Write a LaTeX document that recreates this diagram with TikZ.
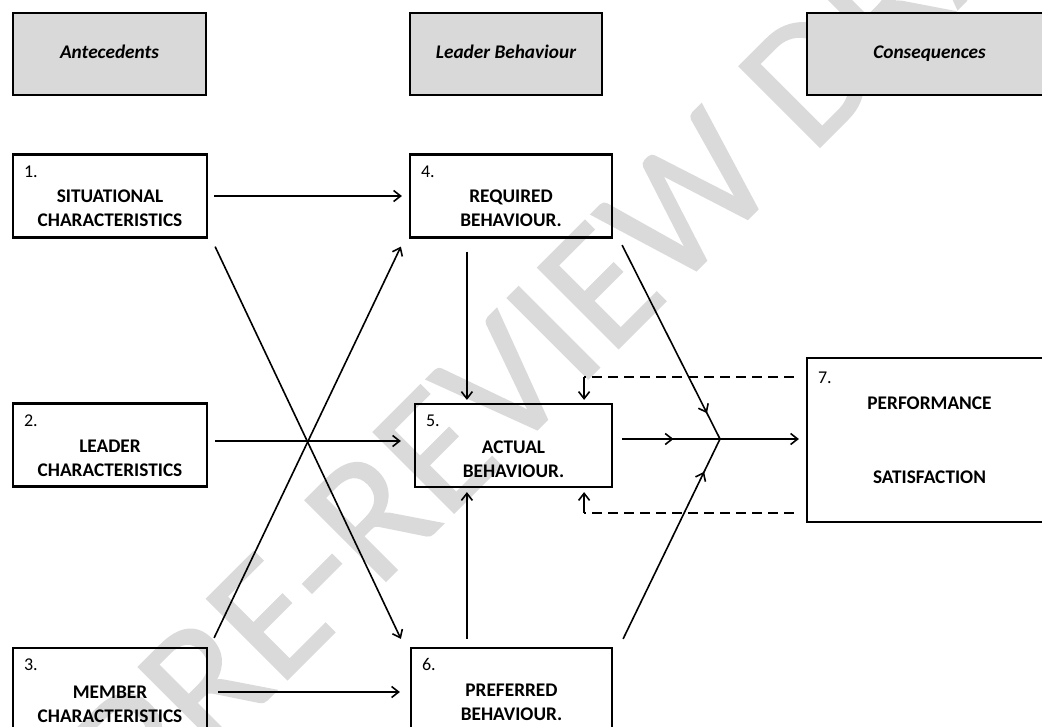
\documentclass[tikz,border=0pt]{standalone}
\usepackage{fontspec}
\setmainfont{Carlito}
\newfontfamily\wmfont[FakeBold=0.8]{Carlito}
\usetikzlibrary{arrows.meta,decorations.markings}
\definecolor{hdrfill}{HTML}{D9D9D9}
\definecolor{wmark}{HTML}{DADADA}
\tikzset{
  barb/.tip={Straight Barb[length=7pt,width=11pt]},
  hdr/.style={draw, line width=2.6pt, fill=hdrfill, minimum height=82pt, inner sep=0pt,
    text height=13pt, text depth=4pt, font=\fontsize{19.3}{24}\selectfont\bfseries\itshape},
  item/.style={draw, line width=2.2pt, inner sep=0pt, minimum height=83pt},
  num/.style={anchor=west, inner sep=0pt, font=\fontsize{18}{20}\selectfont},
  lbl/.style={align=center, inner sep=0pt, font=\fontsize{19.3}{24}\selectfont\bfseries},
  arr/.style={line width=1.6pt, -barb},
  midarr/.style={line width=1.6pt, postaction={decorate},
    decoration={markings, mark=at position #1 with {\arrow{barb}}}},
  fbline/.style={line width=1.6pt, dash pattern=on 10pt off 6pt},
  wm/.style={inner sep=0pt, text=wmark, font=\wmfont\fontsize{178}{180}\selectfont}
}
\begin{document}
\begin{tikzpicture}[x=1pt,y=-1pt]
\path[use as bounding box] (0,0) rectangle (1042,726);
\clip (0,0) rectangle (1042,726);

% watermark behind everything
\node[wm, rotate=45, anchor=base west] (wm) at (145,822) {PRE-REVIEW DRAFT};

% column headers
\node[hdr, minimum width=193pt] (h1) at (109.5,54) {Antecedents};
\node[hdr, minimum width=192pt] (h2) at (506,54) {Leader Behaviour};
\node[hdr, minimum width=245pt] (h3) at (929.5,54) {Consequences};

% boxes
\node[item, minimum width=194pt] (b1) at (110,196) {};
\node[item, minimum width=194pt] (b2) at (110,445) {};
\node[item, minimum width=194pt] (b3) at (110,689.5) {};
\node[item, minimum width=202pt] (b4) at (511,196) {};
\node[item, minimum width=197pt] (b5) at (513.5,445.5) {};
\node[item, minimum width=201pt] (b6) at (511.5,689.5) {};
\node[item, minimum width=245pt, minimum height=164pt] (b7) at (929.5,440) {};

% numbers
\node[num] (n1) at ([shift={(12,18)}]b1.north west) {1.};
\node[num] (n2) at ([shift={(12,18)}]b2.north west) {2.};
\node[num] (n3) at ([shift={(12,18)}]b3.north west) {3.};
\node[num] (n4) at ([shift={(12,18)}]b4.north west) {4.};
\node[num] (n5) at ([shift={(12,18)}]b5.north west) {5.};
\node[num] (n6) at ([shift={(12,18)}]b6.north west) {6.};
\node[num] (n7) at ([shift={(12,21)}]b7.north west) {7.};

% box texts
\node[lbl] (t1) at ([shift={(0,12.5)}]b1.center) {SITUATIONAL\\CHARACTERISTICS};
\node[lbl] (t2) at ([shift={(0,13.5)}]b2.center) {LEADER\\CHARACTERISTICS};
\node[lbl] (t3) at ([shift={(0,15)}]b3.center) {MEMBER\\CHARACTERISTICS};
\node[lbl] (t4) at ([shift={(0,12.5)}]b4.center) {REQUIRED\\BEHAVIOUR.};
\node[lbl] (t5) at ([shift={(0,13.5)}]b5.center) {ACTUAL\\BEHAVIOUR.};
\node[lbl] (t6) at ([shift={(0,13)}]b6.center) {PREFERRED\\BEHAVIOUR.};
\node[lbl] (t7) at (b7.center) {PERFORMANCE\\[50pt]SATISFACTION};

% junction in front of the consequences
\coordinate (j) at (720,439);

% antecedents to leader behaviour
\draw[arr] ([shift={(6,0)}]b1.east) -- ([shift={(-7,0)}]b4.west);
\draw[arr] ([shift={(7,-4)}]b2.east) -- ([shift={(-13,-4.5)}]b5.west);
\draw[arr] ([shift={(10,2.5)}]b3.east) -- ([shift={(-10,2.5)}]b6.west);
\draw[arr] ([shift={(7,8)}]b1.south east) -- ([shift={(-9,-8)}]b6.north west);
\draw[arr] ([shift={(6,-9)}]b3.north east) -- ([shift={(-8,8)}]b4.south west);

% required / preferred into actual
\draw[arr] ([shift={(58,13)}]b4.south west) -- ([shift={(53,-3)}]b5.north west);
\draw[arr] ([shift={(57,-8)}]b6.north west) -- ([shift={(53,4)}]b5.south west);

% leader behaviour into the junction
\draw[midarr=0.525] ([shift={(9,-6.5)}]b5.east) -- (j);
\draw[midarr=0.867] ([shift={(9,6.5)}]b4.south east) -- (j);
\draw[midarr=0.836] ([shift={(10,-8)}]b6.north east) -- (j);
\draw[arr, shorten >=7pt] (j) -- (j -| b7.west);

% feedback from the consequences
\coordinate (fa) at ([shift={(-29,-26)}]b5.north east);
\coordinate (fb) at ([shift={(-29,25)}]b5.south east);
\draw[fbline] ([shift={(-12,20)}]b7.north west) -- (fa);
\draw[arr] (fa) -- ([shift={(-29,-3)}]b5.north east);
\draw[fbline] ([shift={(-12,-10)}]b7.south west) -- (fb);
\draw[arr] (fb) -- ([shift={(-29,4)}]b5.south east);
\end{tikzpicture}
\end{document}
